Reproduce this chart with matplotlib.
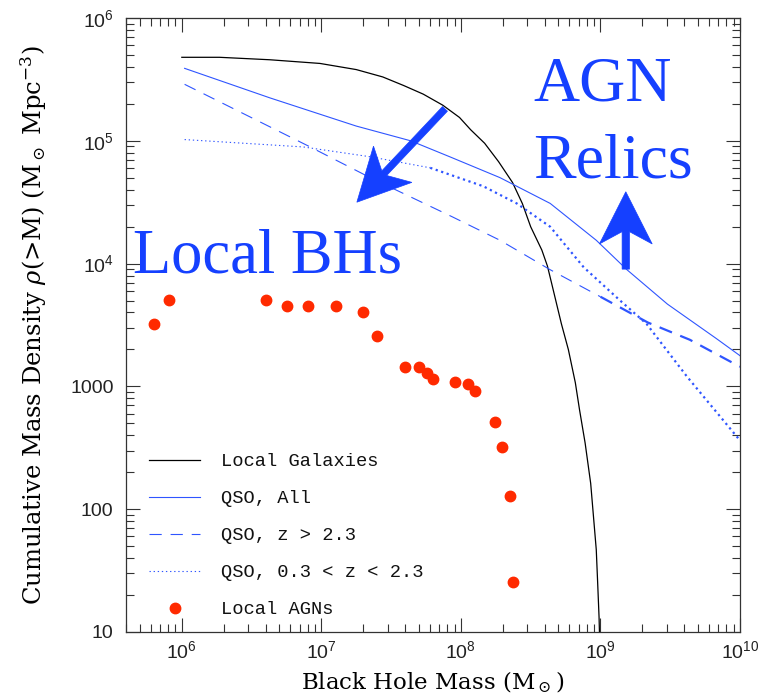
import numpy as np
import matplotlib
matplotlib.use("Agg")
import matplotlib.pyplot as plt
from matplotlib.patches import Polygon
from matplotlib.ticker import LogLocator, FuncFormatter, NullFormatter
from matplotlib.font_manager import FontProperties

plt.rcParams['mathtext.fontset'] = 'custom'
plt.rcParams['mathtext.rm'] = 'DejaVu Serif'
plt.rcParams['mathtext.it'] = 'DejaVu Serif:italic'
plt.rcParams['mathtext.sf'] = 'Liberation Sans'

# --- data (log10 M_sun, log10 rho) ---
gal_logm = [6.00, 6.27, 6.63, 6.99, 7.25, 7.44, 7.59, 7.73, 7.87, 7.99, 8.07, 8.17,
            8.27, 8.37, 8.44, 8.50, 8.58, 8.62, 8.65, 8.72, 8.77, 8.82, 8.85, 8.89,
            8.93, 8.95, 8.97, 8.98, 8.99, 8.995]
gal_logrho = [5.68, 5.68, 5.66, 5.63, 5.58, 5.52, 5.45, 5.38, 5.29, 5.19, 5.09, 4.98,
              4.83, 4.66, 4.49, 4.30, 4.11, 3.98, 3.84, 3.51, 3.30, 3.03, 2.81, 2.54,
              2.21, 1.94, 1.67, 1.40, 1.12, 0.9]

qso_all_logm = [6.02, 6.63, 7.25, 7.64, 7.92, 8.28, 8.64, 8.97, 9.19, 9.48, 9.83, 10.0]
qso_all_logrho = [5.59, 5.35, 5.12, 5.00, 4.87, 4.70, 4.49, 4.19, 3.95, 3.67, 3.39, 3.25]

qso_hi_logm = [6.02, 6.92, 7.35, 7.94, 8.28, 8.64, 9.00, 9.34, 9.64, 10.0]
qso_hi_logrho = [5.46, 4.95, 4.70, 4.38, 4.19, 3.95, 3.73, 3.52, 3.38, 3.16]

qso_lo_logm = [6.02, 6.87, 7.35, 7.78, 8.16, 8.40, 8.64, 8.88, 9.14, 9.33, 9.62, 10.0]
qso_lo_logrho = [5.01, 4.95, 4.87, 4.78, 4.63, 4.49, 4.30, 3.97, 3.70, 3.51, 3.08, 2.56]

agn_mass = [6.3e5, 8.1e5, 4.0e6, 5.7e6, 8.0e6, 1.27e7, 2.0e7, 2.5e7, 4.0e7, 5.0e7,
            5.7e7, 6.3e7, 9.1e7, 1.12e8, 1.26e8, 1.76e8, 1.97e8, 2.25e8, 2.37e8]
agn_rho = [3220, 5080, 5080, 4520, 4520, 4520, 4050, 2560, 1440, 1440,
           1290, 1150, 1085, 1048, 920, 513, 321, 128, 25.5]

labels = ['Local Galaxies', 'QSO, All', 'QSO, z > 2.3', 'QSO, 0.3 < z < 2.3', 'Local AGNs']

BLUE = '#2f55ff'
TEXTBLUE = '#1540ff'
RED = '#ff2a00'


def tolin(lst):
    return 10 ** np.asarray(lst)


def stealth_arrow(ax, tail, tip, sw=0.0055, hl=0.085, hw=0.043, indent=0.02, color=TEXTBLUE):
    # axes is square in pixels, so axes-fraction units are isotropic
    t = np.array(tail)
    p = np.array(tip)
    u = (p - t) / np.hypot(*(p - t))
    n = np.array([-u[1], u[0]])
    neck = p - u * (hl - indent)
    back = p - u * hl
    pts = [t + n * sw, neck + n * sw, back + n * hw, p,
           back - n * hw, neck - n * sw, t - n * sw]
    ax.add_patch(Polygon(pts, closed=True, transform=ax.transAxes,
                         facecolor=color, edgecolor=color, lw=0.5, zorder=5))


fig = plt.figure(figsize=(7.71, 6.97), dpi=100)
ax = fig.add_axes([126 / 771, 65 / 697, 614 / 771, 614 / 697])

# Local galaxies
h_gal, = ax.plot(tolin(gal_logm), tolin(gal_logrho), color='k', lw=0.9)

# QSO all
h_all, = ax.plot(tolin(qso_all_logm), tolin(qso_all_logrho), color=BLUE, lw=0.8)

# QSO z > 2.3 : thin dashes then heavier ones past 1e9
k = qso_hi_logm.index(9.00)
h_hi, = ax.plot(tolin(qso_hi_logm[:k + 1]), tolin(qso_hi_logrho[:k + 1]), color=BLUE,
                lw=0.8, dashes=(11, 8))
ax.plot(tolin(qso_hi_logm[k:]), tolin(qso_hi_logrho[k:]), color=BLUE, lw=1.6, dashes=(6, 4))

# QSO 0.3 < z < 2.3 : thin dots then heavier ones
k = qso_lo_logm.index(7.78)
h_lo, = ax.plot(tolin(qso_lo_logm[:k + 1]), tolin(qso_lo_logrho[:k + 1]), color=BLUE,
                lw=0.8, dashes=(1.2, 2.5))
ax.plot(tolin(qso_lo_logm[k:]), tolin(qso_lo_logrho[k:]), color=BLUE, lw=1.6, dashes=(1, 1.6))

h_agn, = ax.plot(agn_mass, agn_rho, 'o', color=RED, ms=7.5, mec=RED, ls='none')

ax.set_xscale('log')
ax.set_yscale('log')
ax.set_xlim(10 ** 5.6, 1e10)
ax.set_ylim(10, 1e6)

for a in (ax.xaxis, ax.yaxis):
    a.set_major_locator(LogLocator(base=10, numticks=20))
    a.set_minor_locator(LogLocator(base=10, subs=np.arange(2, 10), numticks=20))
    a.set_minor_formatter(NullFormatter())


def xfmt(v, pos):
    return r'$\mathsf{10^{%d}}$' % int(round(np.log10(v)))


def yfmt(v, pos):
    e = int(round(np.log10(v)))
    if e <= 3:
        return '%d' % int(round(v))
    return r'$\mathsf{10^{%d}}$' % e


ax.xaxis.set_major_formatter(FuncFormatter(xfmt))
ax.yaxis.set_major_formatter(FuncFormatter(yfmt))

ax.tick_params(which='both', direction='in', top=True, right=True, colors='#333333',
               labelcolor='#222222', width=0.8)
ax.tick_params(which='major', length=10, labelsize=14)
ax.tick_params(which='minor', length=5.5)
ax.tick_params(axis='x', which='major', pad=6)
ax.tick_params(axis='y', which='major', pad=9)
for lab in ax.get_xticklabels() + ax.get_yticklabels():
    lab.set_family('Liberation Sans')
for s in ax.spines.values():
    s.set_color('#333333')
    s.set_linewidth(0.9)

ax.set_xlabel(r'Black Hole Mass (M$_\odot$)', family='DejaVu Serif', fontsize=16.5)
ax.set_ylabel(r'Cumulative Mass Density $\rho$(>M) (M$_\odot$ Mpc$^{-3}$)',
              family='DejaVu Serif', fontsize=17.5)
ax.xaxis.set_label_coords(0.5, -0.062)
ax.yaxis.set_label_coords(-0.125, 0.5)

leg = ax.legend([h_gal, h_all, h_hi, h_lo, h_agn], labels, loc='lower left',
                bbox_to_anchor=(0.038, 0.022), frameon=False, handlelength=2.7,
                handletextpad=1.1, labelspacing=1.06, borderpad=0, borderaxespad=0,
                numpoints=1, prop=FontProperties(family='Liberation Mono', size=13.5))
for t in leg.get_texts():
    t.set_color('#111111')

ax.text(0.012, 0.585, 'Local BHs', transform=ax.transAxes, color=TEXTBLUE,
        family='Liberation Serif', fontsize=45, va='baseline', ha='left')
ax.text(0.663, 0.865, 'AGN', transform=ax.transAxes, color=TEXTBLUE,
        family='Liberation Serif', fontsize=46, va='baseline', ha='left')
ax.text(0.663, 0.741, 'Relics', transform=ax.transAxes, color=TEXTBLUE,
        family='Liberation Serif', fontsize=46, va='baseline', ha='left')

stealth_arrow(ax, (0.5195, 0.852), (0.376, 0.700))
stealth_arrow(ax, (0.814, 0.591), (0.814, 0.717), sw=0.006)

fig.savefig('out.png', dpi=100)
